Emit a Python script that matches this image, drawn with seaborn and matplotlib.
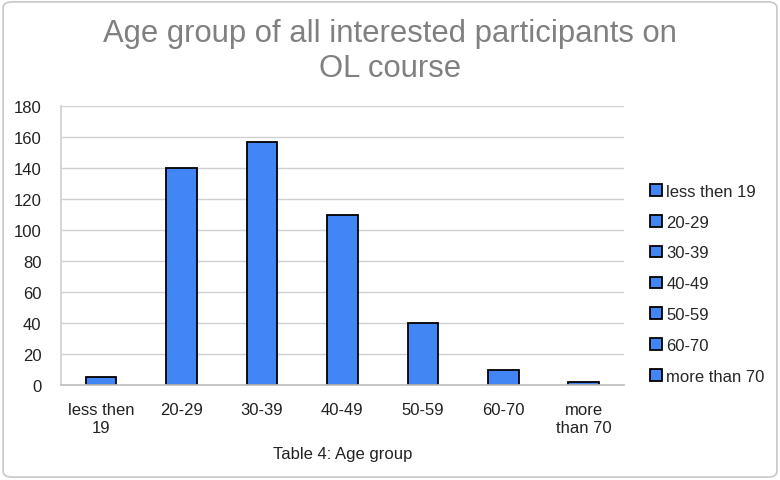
import matplotlib
matplotlib.use("Agg")
import matplotlib.pyplot as plt
from matplotlib.patches import FancyBboxPatch
import seaborn as sns
import pandas as pd

# data
age_groups = ["less then 19", "20-29", "30-39", "40-49", "50-59", "60-70", "more than 70"]
tick_labels = ["less then\n19", "20-29", "30-39", "40-49", "50-59", "60-70", "more\nthan 70"]
participants = [5, 140, 157, 110, 40, 10, 2]

df = pd.DataFrame({"group": age_groups, "count": participants})

sns.set_theme(style="white")
plt.rcParams["font.family"] = ["Liberation Sans", "DejaVu Sans"]

bar_color = "#4285f4"

fig = plt.figure(figsize=(7.8, 4.81), dpi=100)
ax = fig.add_axes([0.078, 0.1975, 0.722, 0.58])

sns.barplot(
    data=df, x="group", y="count", hue="group",
    palette=[bar_color] * len(age_groups), dodge=False, saturation=1,
    width=0.38, edgecolor="black", linewidth=1.3, ax=ax, legend=True,
)

ax.set_ylim(0, 180)
ax.set_yticks(range(0, 181, 20))
ax.set_xticks(range(len(age_groups)))
ax.set_xticklabels(tick_labels, fontsize=12, color="#222222", linespacing=1.3)
ax.tick_params(axis="y", labelsize=12, colors="#222222", length=0, pad=14)
ax.tick_params(axis="x", length=0, pad=12)
ax.set_xlim(-0.5, len(age_groups) - 0.5)
ax.yaxis.grid(True, color="#d0d0d0", linewidth=1)
ax.set_axisbelow(True)
for side in ["top", "right"]:
    ax.spines[side].set_visible(False)
ax.spines["left"].set_color("#d0d0d0")
ax.spines["bottom"].set_color("#c0c0c0")
ax.set_xlabel("Table 4: Age group", fontsize=12, color="#222222", labelpad=8)
ax.set_ylabel("")

leg = ax.legend(
    loc="upper left", bbox_to_anchor=(1.035, 0.745), frameon=False,
    fontsize=12, handlelength=0.7, handleheight=0.7, handletextpad=0.25,
    labelspacing=0.95, borderaxespad=0,
)
for h in leg.legend_handles:
    h.set_edgecolor("black")
    h.set_linewidth(1.3)

fig.text(0.5, 0.892, "Age group of all interested participants on\nOL course",
         ha="center", va="center", fontsize=22.3, color="#808080", linespacing=1.22)

border = FancyBboxPatch((0.004, 0.006), 0.992, 0.988, boxstyle="round,pad=0,rounding_size=0.012",
                        transform=fig.transFigure, fill=False, edgecolor="#c8c8c8", linewidth=1.2)
fig.patches.append(border)

fig.savefig("out.png", dpi=100)
